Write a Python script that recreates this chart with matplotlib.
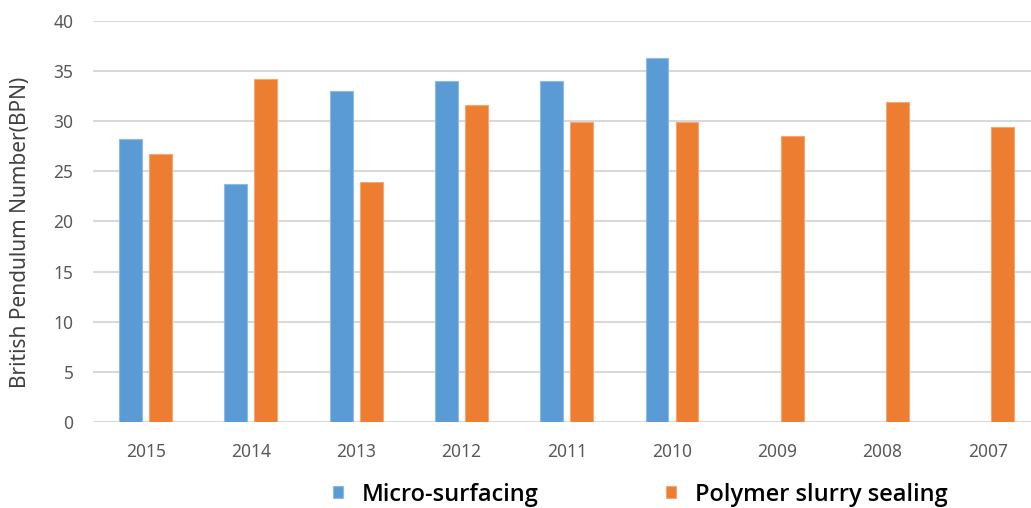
import numpy as np
import matplotlib.pyplot as plt

years = ['2015', '2014', '2013', '2012', '2011', '2010', '2009', '2008', '2007']
micro_surfacing = [28.2, 23.7, 33.0, 34.0, 34.0, 36.3, np.nan, np.nan, np.nan]
polymer_slurry = [26.7, 34.2, 23.9, 31.6, 29.9, 29.9, 28.5, 31.9, 29.4]
yticks = [0, 5, 10, 15, 20, 25, 30, 35, 40]

plt.rcParams['font.family'] = ['Noto Sans', 'DejaVu Sans']

fig = plt.figure(figsize=(10.31, 5.08), dpi=100)
ax = fig.add_axes([0.0902, 0.1693, 0.919, 0.7894])

x = np.arange(len(years))
w = 0.218
off = 0.1425
b1 = ax.bar(x - off, micro_surfacing, w, color='#5B9BD5', edgecolor='#8DBBE6', linewidth=0.8,
            label='Micro-surfacing', zorder=3)
b2 = ax.bar(x + off, polymer_slurry, w, color='#ED7D31', edgecolor='#F4A772', linewidth=0.8,
            label='Polymer slurry sealing', zorder=3)

ax.set_xlim(-0.5, len(years) - 0.5)
ax.set_ylim(0, 40)
ax.set_yticks(yticks)
ax.set_xticks(x)
ax.set_xticklabels(years)
ax.grid(axis='y', color='#d9d9d9', linewidth=1.5, zorder=0)
for s in ax.spines.values():
    s.set_visible(False)
ax.tick_params(axis='both', length=0, labelsize=12.5, labelcolor='#595959')
ax.tick_params(axis='y', pad=14)
ax.tick_params(axis='x', pad=15)

fig.text(0.0194, 0.543, 'British Pendulum Number(BPN)', rotation=90, ha='center', va='center',
         fontsize=15, color='#404040')

fig.legend(handles=[b1, b2], loc='center', bbox_to_anchor=(0.6208, 0.026), ncol=2, frameon=False,
           handlelength=0.42, handleheight=0.42, handletextpad=0.8, columnspacing=5.4,
           prop={'family': ['Open Sans'], 'size': 17, 'weight': 'semibold'})

fig.savefig('out.png', dpi=100)
